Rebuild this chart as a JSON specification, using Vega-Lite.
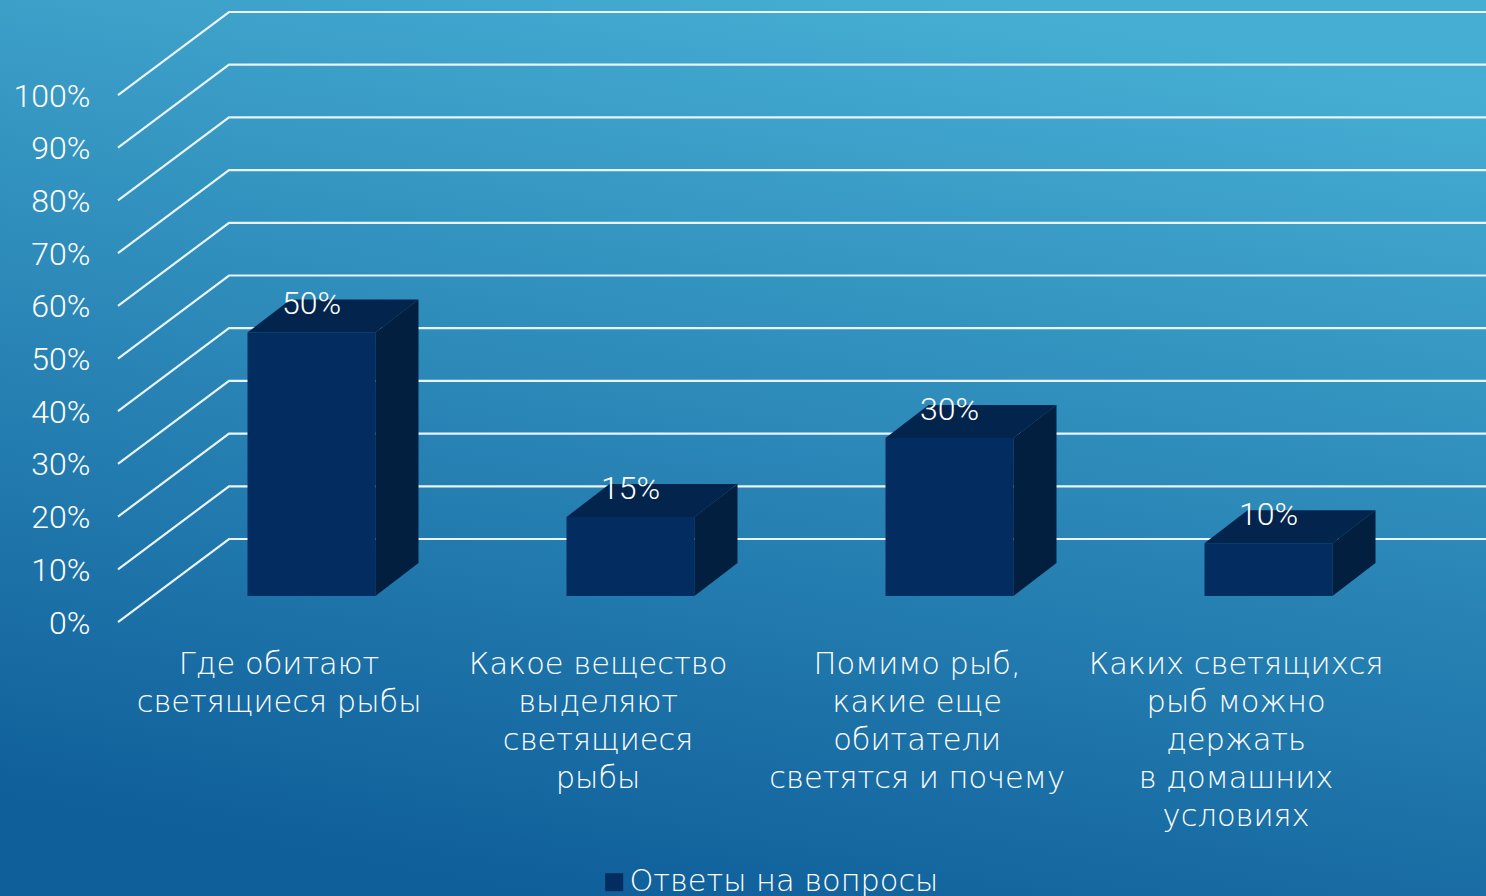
{
  "$schema": "https://vega.github.io/schema/vega-lite/v6.json",
  "width": 1486,
  "height": 896,
  "padding": 0,
  "autosize": {"type": "none"},
  "config": {
    "view": {
      "stroke": null,
      "fill": {"gradient": "linear", "x1": 0.66, "y1": 0, "x2": 0.36, "y2": 1, "stops": [{"offset": 0, "color": "#46aed3"}, {"offset": 1, "color": "#0f5f9a"}]}
    },
    "font": "DejaVu Sans",
    "text": {"font": "DejaVu Sans", "fontWeight": 200}
  },
  "datasets": {
    "bars": [
      {"idx": 0, "question": "Где обитают|светящиеся рыбы", "value": 50, "series": "Ответы на вопросы"},
      {"idx": 1, "question": "Какое вещество|выделяют|светящиеся|рыбы", "value": 15, "series": "Ответы на вопросы"},
      {"idx": 2, "question": "Помимо рыб,|какие еще|обитатели|светятся и почему", "value": 30, "series": "Ответы на вопросы"},
      {"idx": 3, "question": "Каких светящихся|рыб можно|держать|в домашних|условиях", "value": 10, "series": "Ответы на вопросы"}
    ],
    "levels": [
      {"level": 0}, {"level": 10}, {"level": 20}, {"level": 30}, {"level": 40}, {"level": 50},
      {"level": 60}, {"level": 70}, {"level": 80}, {"level": 90}, {"level": 100}
    ]
  },
  "layer": [
    {
      "data": {"name": "levels"},
      "transform": [
        {"calculate": "[0, 1, 2]", "as": "pt"},
        {"flatten": ["pt"]},
        {"calculate": "datum.pt === 0 ? 0 : datum.pt === 1 ? 0.348 : 4.2884", "as": "px"},
        {"calculate": "datum.level + (datum.pt === 0 ? 0 : 15.75)", "as": "py"}
      ],
      "mark": {"type": "line", "color": "#eaf4f8", "strokeWidth": 2.2, "interpolate": "linear"},
      "encoding": {
        "x": {"field": "px", "type": "quantitative", "scale": {"domain": [-0.3699, 4.2884], "nice": false, "zero": false}, "axis": null},
        "y": {"field": "py", "type": "quantitative", "scale": {"domain": [-51.99, 118.03], "nice": false, "zero": false},
          "axis": {"values": [0, 10, 20, 30, 40, 50, 60, 70, 80, 90, 100], "orient": "left", "offset": -118, "domain": false, "ticks": false, "grid": false, "title": null, "labelPadding": 28, "labelOffset": 1, "labelFontSize": 32, "labelFont": "Roboto", "labelFontWeight": 300, "labelColor": "#ffffff", "labelExpr": "datum.value + '%'"}},
        "detail": {"field": "level"},
        "order": {"field": "pt"}
      }
    },
    {
      "data": {"name": "bars"},
      "transform": [
        {"calculate": "datum.idx + 0.406", "as": "x0"},
        {"calculate": "datum.idx + 0.807", "as": "x1"},
        {"calculate": "4.93", "as": "base"},
        {"calculate": "4.93 + datum.value", "as": "top"}
      ],
      "mark": {"type": "rect"},
      "encoding": {
        "x": {"field": "x0", "type": "quantitative"},
        "x2": {"field": "x1"},
        "y": {"field": "base", "type": "quantitative"},
        "y2": {"field": "top"},
        "color": {"field": "series", "type": "nominal", "scale": {"range": ["#032c60"]},
          "legend": {"orient": "none", "legendX": 599, "legendY": 867, "title": null, "symbolType": "square", "symbolSize": 324, "symbolStrokeWidth": 0, "labelFontSize": 30.4, "labelFont": "DejaVu Sans", "labelFontWeight": 200, "labelColor": "#ffffff", "labelOffset": 0, "labelLimit": 500}}
      }
    },
    {
      "data": {"name": "bars"},
      "transform": [
        {"calculate": "[0, 1]", "as": "pt"},
        {"flatten": ["pt"]},
        {"calculate": "datum.idx + 0.807 + datum.pt * 0.135", "as": "sx"},
        {"calculate": "4.93 + datum.pt * 6.26", "as": "sy0"},
        {"calculate": "4.93 + datum.value + datum.pt * 6.26", "as": "sy1"}
      ],
      "mark": {"type": "area", "color": "#021f40", "opacity": 1},
      "encoding": {
        "x": {"field": "sx", "type": "quantitative"},
        "y": {"field": "sy0", "type": "quantitative"},
        "y2": {"field": "sy1"},
        "detail": {"field": "idx"}
      }
    },
    {
      "data": {"name": "bars"},
      "transform": [
        {"calculate": "[0, 1, 2, 3]", "as": "pt"},
        {"flatten": ["pt"]},
        {"calculate": "datum.idx + 0.406 + (datum.pt === 0 ? 0 : datum.pt === 1 ? 0.135 : datum.pt === 2 ? 0.401 : 0.536)", "as": "tx"},
        {"calculate": "4.93 + datum.value + (datum.pt === 3 ? 6.26 : 0)", "as": "ty0"},
        {"calculate": "4.93 + datum.value + (datum.pt === 0 ? 0 : 6.26)", "as": "ty1"}
      ],
      "mark": {"type": "area", "color": "#03254d", "opacity": 1},
      "encoding": {
        "x": {"field": "tx", "type": "quantitative"},
        "y": {"field": "ty0", "type": "quantitative"},
        "y2": {"field": "ty1"},
        "detail": {"field": "idx"}
      }
    },
    {
      "data": {"name": "bars"},
      "transform": [
        {"calculate": "datum.idx + 0.6065", "as": "lx"},
        {"calculate": "4.93 + datum.value + 5.35", "as": "ly"},
        {"calculate": "datum.value + '%'", "as": "vlabel"}
      ],
      "mark": {"type": "text", "color": "#ffffff", "font": "Roboto", "fontWeight": 300, "fontSize": 32, "align": "center", "baseline": "middle"},
      "encoding": {
        "x": {"field": "lx", "type": "quantitative"},
        "y": {"field": "ly", "type": "quantitative"},
        "text": {"field": "vlabel"}
      }
    },
    {
      "data": {"name": "bars"},
      "transform": [
        {"calculate": "datum.idx + 0.505", "as": "cx"},
        {"calculate": "-5.35", "as": "cy"}
      ],
      "mark": {"type": "text", "color": "#ffffff", "fontSize": 30.5, "align": "center", "baseline": "top", "lineBreak": "|", "lineHeight": 38},
      "encoding": {
        "x": {"field": "cx", "type": "quantitative"},
        "y": {"field": "cy", "type": "quantitative"},
        "text": {"field": "question"}
      }
    }
  ],
  "resolve": {"scale": {"color": "independent"}}
}
